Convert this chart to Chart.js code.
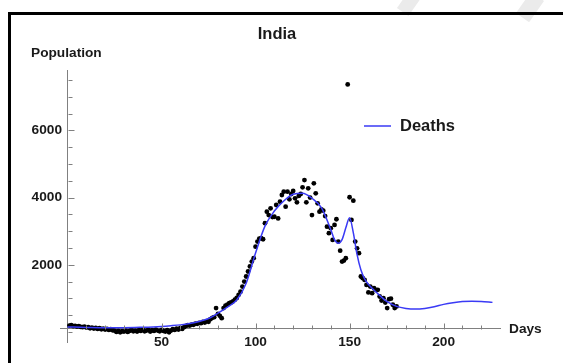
<!DOCTYPE html>
<html>
<head>
<meta charset="utf-8">
<script src="https://cdn.jsdelivr.net/npm/chart.js@4/dist/chart.umd.min.js"></script>
<style>
html, body { margin: 0; padding: 0; background: #fff; overflow: hidden; }
#frame { position: absolute; left: 8px; top: 12px; width: 600px; height: 400px; border-left: 3px solid #000; border-top: 3px solid #000; }
#wrap { position: absolute; left: 0; top: 0; width: 563px; height: 363px; }
.mark { position: absolute; background: #ebebeb; transform: rotate(35deg); }
</style>
</head>
<body>
<div class="mark" style="left:402px; top:-8px; width:14px; height:22px;"></div>
<div class="mark" style="left:522px; top:-6px; width:16px; height:26px;"></div>
<div id="frame"></div>
<div id="wrap"><canvas id="chart" width="563" height="363"></canvas></div>
<script>
// data
const titleText = 'India';
const yTitle = 'Population';
const xTitle = 'Days';
const seriesName = 'Deaths';

// daily observed values, day 1 .. 175
const deathValues = [
  190, 200, 170, 180, 160, 170, 150, 140, 160, 130,
  140, 110, 130, 100, 120, 90, 110, 80, 100, 70,
  90, 60, 80, 50, 40, 0, 30, -10, 20, 10,
  40, 0, 30, 60, 20, 40, 10, 50, 30, 70,
  20, 40, 60, 10, 50, 30, 70, 40, 20, 60,
  30, 10, 50, -10, 40, 80, 60, 100, 70, 120,
  90, 140, 180, 200, 190, 220, 210, 250, 240, 270,
  260, 300, 280, 320, 300, 380, 420, 440, 710, 540,
  480, 410, 710, 780, 810, 860, 880, 910, 960, 1010,
  1105, 1200, 1350, 1500, 1650, 1800, 1950, 2095, 2195, 2540,
  2690, 2780, 2790, 2760, 3240, 3580, 3480, 3680, 3420, 3430,
  3780, 3380, 3880, 4078, 4176, 3730, 4176, 3950, 4107, 4200,
  3980, 3860, 4050, 4107, 4306, 4523, 3860, 4277, 4000, 3480,
  4425, 4128, 3830, 3580, 3650, 3610, 3450, 3135, 2940, 3090,
  2740, 3185, 3355, 2690, 2420, 2095, 2125, 2195, 7370, 4010,
  3335, 3910, 2690, 2490, 2345, 1650, 1600, 1550, 1400, 1175,
  1350, 1155, 1300, 1255, 1255, 1055, 935, 1005, 875, 710,
  975, 990, 810, 710, 760
];
const deathDays = deathValues.map((v, i) => i + 1);

// fitted curve, sampled where it was read
const fitDays = [0, 10, 20, 30, 40, 50, 55, 60, 65, 70, 75, 80, 85, 90, 95, 100, 105, 110, 115, 120,
  125, 130, 135, 140, 142, 144, 146, 148, 150, 152, 154, 156, 158, 160, 165, 170, 175, 180, 185,
  190, 195, 200, 205, 210, 215, 220, 226];
const fitValues = [150, 135, 125, 125, 140, 165, 185, 210, 250, 310, 400, 560, 740, 950, 1450, 2350, 3150, 3600, 3900, 4100,
  4130, 3980, 3700, 3050, 2750, 2640, 2750, 3100, 3400, 2950, 2300, 1850, 1580, 1420, 1140, 900, 760, 700, 680,
  700, 750, 820, 870, 905, 915, 905, 880];

const xTicks = [10, 20, 30, 40, 50, 60, 70, 80, 90, 100, 110, 120, 130, 140, 150, 160, 170, 180, 190, 200, 210, 220];
const xLabels = [50, 100, 150, 200];
const yTicks = [0, 500, 1000, 1500, 2000, 2500, 3000, 3500, 4000, 4500, 5000, 5500, 6000, 6500, 7000, 7500];
const yLabels = [2000, 4000, 6000];

const lineColor = '#3a3af5';
const axisColor = '#808080';
const textColor = '#1a1a1a';
const font = '"Liberation Sans", Arial, sans-serif';
const tickFont = 'bold 13.7px ' + font;

// tick marks point into the plot, like the original; y labels sit left of the axis
const tickPlugin = {
  id: 'innerTicks',
  afterDraw(chart) {
    const c = chart.ctx;
    const xs = chart.scales.x, ys = chart.scales.y;
    const x0 = Math.round(xs.getPixelForValue(0)) + 0.5;
    const y0 = Math.round(ys.getPixelForValue(100)) + 0.5;
    c.save();
    c.strokeStyle = axisColor;
    c.lineWidth = 1;
    c.beginPath();
    for (const v of xTicks) {
      const px = Math.round(xs.getPixelForValue(v)) + 0.5;
      c.moveTo(px, y0);
      c.lineTo(px, y0 - (xLabels.includes(v) ? 6 : 4));
    }
    for (const v of yTicks) {
      const py = Math.round(ys.getPixelForValue(v)) + 0.5;
      c.moveTo(x0, py);
      c.lineTo(x0 + (yLabels.includes(v) ? 6 : 4), py);
    }
    c.stroke();
    c.fillStyle = textColor;
    c.font = tickFont;
    c.textAlign = 'right';
    c.textBaseline = 'middle';
    for (const v of yLabels) {
      c.fillText(String(v), x0 - 6.5, ys.getPixelForValue(v));
    }
    c.restore();
  }
};

const textPlugin = {
  id: 'texts',
  afterDraw(chart) {
    const c = chart.ctx;
    c.save();
    c.fillStyle = textColor;
    c.textBaseline = 'alphabetic';
    c.font = 'bold 16.5px ' + font;
    c.textAlign = 'center';
    c.fillText(titleText, 277, 39);
    c.textAlign = 'left';
    c.font = tickFont;
    c.fillText(yTitle, 31, 57);
    c.fillText(xTitle, 509, 333);
    // legend
    c.strokeStyle = lineColor;
    c.lineWidth = 1.5;
    c.beginPath();
    c.moveTo(364, 126);
    c.lineTo(391, 126);
    c.stroke();
    c.font = 'bold 16.5px ' + font;
    c.fillText(seriesName, 400, 131);
    c.restore();
  }
};

const axisGrid = { drawOnChartArea: false, drawTicks: false };

const chart = new Chart(document.getElementById('chart'), {
  type: 'scatter',
  data: {
    datasets: [
      {
        type: 'line',
        label: seriesName,
        data: fitDays.map((d, i) => ({x: d, y: fitValues[i]})),
        borderColor: lineColor,
        borderWidth: 1.5,
        pointRadius: 0,
        cubicInterpolationMode: 'monotone',
        fill: false,
        order: 0
      },
      {
        label: 'data',
        data: deathDays.map((d, i) => ({x: d, y: deathValues[i]})),
        backgroundColor: '#000',
        borderColor: '#000',
        pointRadius: 2.4,
        borderWidth: 0,
        order: 1
      }
    ]
  },
  options: {
    responsive: false,
    animation: false,
    devicePixelRatio: 1,
    layout: { padding: { left: 60, right: 63, top: 70, bottom: 21 } },
    plugins: { legend: { display: false }, title: { display: false }, tooltip: { enabled: false } },
    scales: {
      x: {
        type: 'linear',
        min: -4,
        max: 230,
        position: { y: 100 },
        afterBuildTicks: s => { s.ticks = xTicks.map(v => ({value: v})); },
        grid: axisGrid,
        border: { display: true, color: axisColor, width: 1 },
        ticks: {
          autoSkip: false,
          maxRotation: 0,
          padding: 5,
          color: textColor,
          font: { family: font, weight: 'bold', size: 13.7 },
          callback: v => xLabels.includes(v) ? String(v) : ''
        }
      },
      y: {
        type: 'linear',
        min: -300,
        max: 7800,
        position: { x: 0 },
        afterBuildTicks: s => { s.ticks = yTicks.map(v => ({value: v})); },
        grid: axisGrid,
        border: { display: true, color: axisColor, width: 1 },
        ticks: { display: false }
      }
    }
  },
  plugins: [tickPlugin, textPlugin]
});
</script>
</body>
</html>
